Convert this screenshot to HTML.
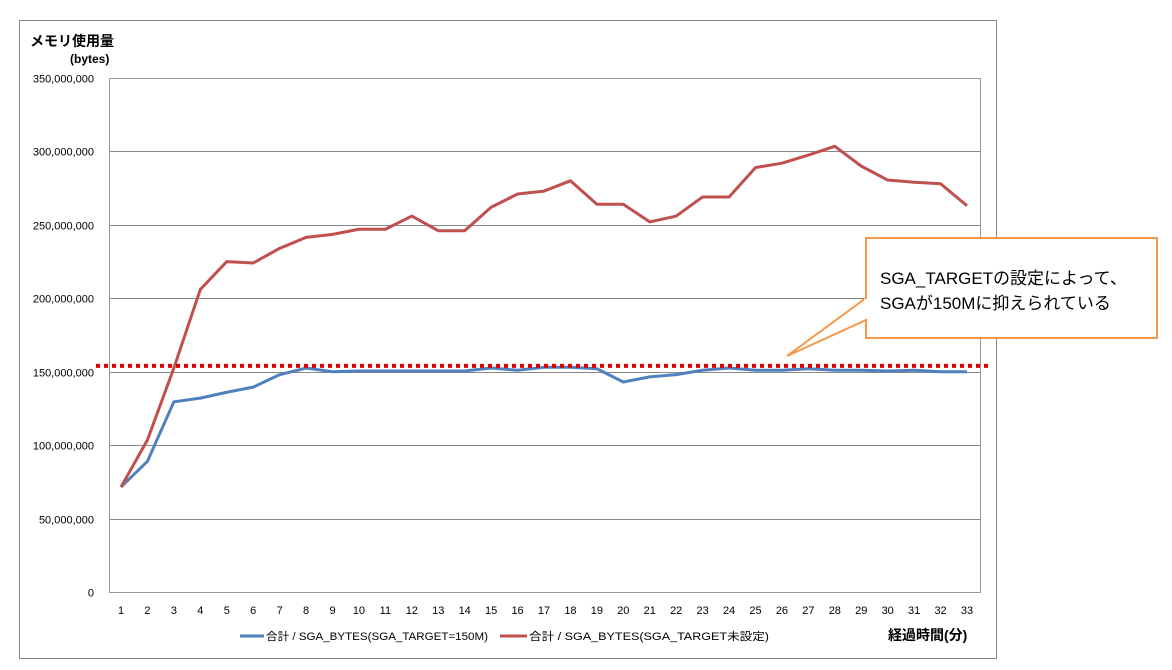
<!DOCTYPE html>
<html><head><meta charset="utf-8"><style>
body{margin:0;background:#fff;}
svg{display:block;font-family:"Liberation Sans","Noto Sans CJK JP",sans-serif;}
</style></head><body>
<svg id="c" width="1172" height="670">
<rect x="19.5" y="20.5" width="977" height="638" fill="#fff" stroke="#888"/>
<text x="30" y="46" font-size="14" font-weight="bold">メモリ使用量</text>
<text x="70" y="63" font-size="12" font-weight="bold">(bytes)</text>
<g id="grid"></g>
<rect x="109.5" y="78.5" width="871" height="514" fill="none" stroke="#999"/>
<g id="ylab"></g><g id="xlab"></g><g id="series"></g>
<g>
<line x1="240" y1="636" x2="264" y2="636" stroke="#4f81bd" stroke-width="3"/>
<text x="266" y="640" font-size="11" textLength="222" lengthAdjust="spacingAndGlyphs">合計 / SGA_BYTES(SGA_TARGET=150M)</text>
<line x1="500" y1="636" x2="527" y2="636" stroke="#c0504d" stroke-width="3"/>
<text x="529" y="640" font-size="11" textLength="240" lengthAdjust="spacingAndGlyphs">合計 / SGA_BYTES(SGA_TARGET未設定)</text>
</g>
<text x="888" y="640" font-size="14" font-weight="bold">経過時間(分)</text>
<g>
<polygon points="866,298 787,356 866,320" fill="#fff" stroke="#f79646" stroke-width="2"/>
<rect x="866" y="238" width="291" height="100" fill="#fff" stroke="#f79646" stroke-width="2"/>
<rect x="864" y="299" width="4" height="20" fill="#fff"/>
<text x="880" y="284" font-size="17">SGA_TARGETの設定によって、</text>
<text x="880" y="309" font-size="17">SGAが150Mに抑えられている</text>
</g>
</svg>
<script>
const categories=[1,2,3,4,5,6,7,8,9,10,11,12,13,14,15,16,17,18,19,20,21,22,23,24,25,26,27,28,29,30,31,32,33];
const sgaTarget=[71.5,89,129.5,132,136,139.5,148,152.5,150,150.5,150.5,150.5,150.5,150.5,152.5,151,153,153,152,143,146.5,148,151,152.5,151,151,152,151,151,150.5,151,150,150];
const noTarget=[71.5,103.5,152.5,206,225,224,234,241.5,243.5,247,247,256,246,246,262,271,273,280,264,264,252,256,269,269,289,292,297.5,303.5,290,280.5,279,278,263];
const yTicks=[0,50,100,150,200,250,300,350];
const limitLine=154;
const NS='http://www.w3.org/2000/svg';
const X0=109,X1=980,Y0=592,Y1=78,YMAX=350;
function xs(i){return 121+i*(967-121)/(categories.length-1);}
function ys(v){return Y0-v/YMAX*(Y0-Y1);}
function mk(t,a,p){const e=document.createElementNS(NS,t);for(const k in a)e.setAttribute(k,a[k]);p.appendChild(e);return e;}
const grid=document.getElementById('grid'),ylab=document.getElementById('ylab'),xlab=document.getElementById('xlab'),ser=document.getElementById('series');
yTicks.forEach(v=>{
  const y=Math.round(ys(v))+0.5;
  const g=mk('line',{x1:X0,x2:X1,y1:y,y2:y,stroke:'#888'},grid);
  
  
  const t=mk('text',{x:94,y:y+4,'font-size':11,'text-anchor':'end'},ylab);
  t.textContent=(v*1000000).toLocaleString('en-US');
  
  
});
categories.forEach((c,i)=>{
  const t=mk('text',{x:xs(i),y:614,'font-size':11,'text-anchor':'middle'},xlab);
  t.textContent=c;
  
  
});
function line(data,color,name){
  const p=mk('polyline',{points:data.map((v,i)=>xs(i)+','+ys(v)).join(' '),fill:'none',stroke:color,'stroke-width':3,'stroke-linejoin':'round'},ser);
  
  
}
line(sgaTarget,'#4f81bd','series-sga-target-150m');
line(noTarget,'#c0504d','series-sga-target-unset');
const d=mk('line',{x1:96,x2:988,y1:ys(limitLine),y2:ys(limitLine),stroke:'#e00000','stroke-width':4,'stroke-dasharray':'4 4'},ser);


</script>
</body></html>
